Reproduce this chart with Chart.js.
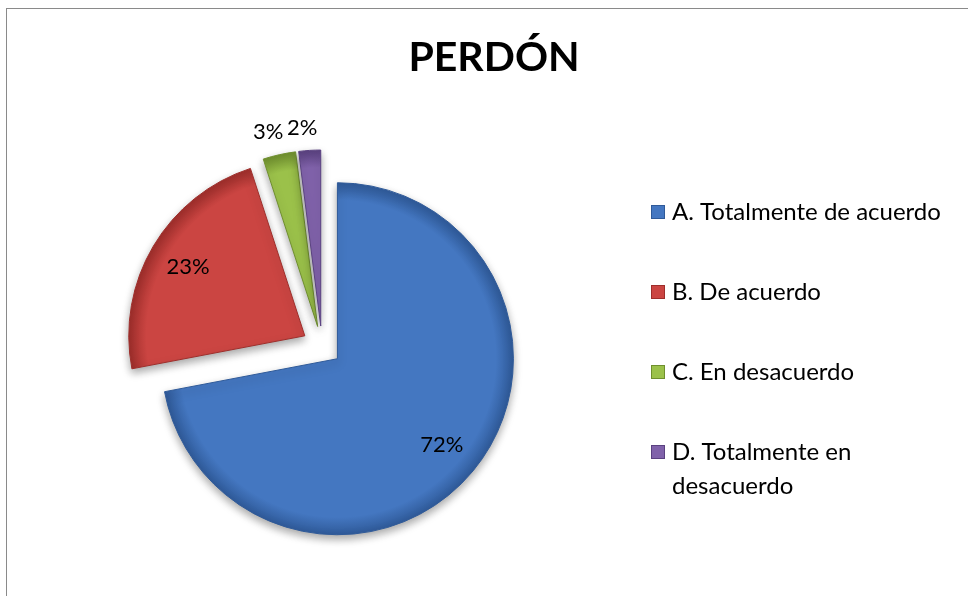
<!DOCTYPE html>
<html>
<head>
<meta charset="utf-8">
<script src="https://cdn.jsdelivr.net/npm/chart.js@4.4.1/dist/chart.umd.min.js"></script>
<style>
  body { margin: 0; background: #fff; }
  #wrap { position: relative; width: 968px; height: 596px; overflow: hidden; }
  #frame { position: absolute; left: 6px; top: 8px; width: 1000px; height: 700px; border: 1px solid #8a8a8a; }
  canvas { position: absolute; left: 0; top: 0; }
</style>
</head>
<body>
<div id="wrap">
  <div id="frame"></div>
  <canvas id="pie__Chart" width="968" height="596"></canvas>
</div>
<script>
// Chart data
const chartTitle = 'PERDÓN';
const categories = [
  'A. Totalmente de acuerdo',
  'B. De acuerdo',
  'C. En desacuerdo',
  'D. Totalmente en desacuerdo'
];
const percentages = [72, 23, 3, 2];
const sliceColors = ['#4477C1', '#CB4542', '#9BC14A', '#8062AA'];
const rimColors = ['#2F5A99', '#9E2E2B', '#6F8F2E', '#5A4180'];

const FONT = 'Lato, "Open Sans", sans-serif';
const EXPLODE = 20; // px each slice is pulled out
const RADIUS = 176;

// mid angle of slice i (chart.js starts at 12 o'clock, clockwise)
function midAngle(i) {
  const total = percentages.reduce((a, b) => a + b, 0);
  const before = percentages.slice(0, i).reduce((a, b) => a + b, 0);
  return -Math.PI / 2 + (before + percentages[i] / 2) / total * Math.PI * 2;
}

function sliceFill(ctx) {
  const chart = ctx.chart;
  const area = chart.chartArea;
  if (!area || ctx.dataIndex === undefined) return sliceColors[ctx.dataIndex] || '#999';
  const mid = midAngle(ctx.dataIndex);
  const gx = (area.left + area.right) / 2 + Math.cos(mid) * EXPLODE;
  const gy = (area.top + area.bottom) / 2 + Math.sin(mid) * EXPLODE;
  const g = chart.ctx.createRadialGradient(gx, gy, 0, gx, gy, RADIUS);
  g.addColorStop(0, sliceColors[ctx.dataIndex]);
  g.addColorStop(0.9, sliceColors[ctx.dataIndex]);
  g.addColorStop(1, rimColors[ctx.dataIndex]);
  return g;
}

const decorPlugin = {
  id: 'decor',
  // pull every slice out along its mid angle
  afterDatasetUpdate(chart, args) {
    args.meta.data.forEach(arc => {
      if (arc._exploded) return;
      const mid = (arc.startAngle + arc.endAngle) / 2;
      arc.x += Math.cos(mid) * EXPLODE;
      arc.y += Math.sin(mid) * EXPLODE;
      arc._exploded = true;
    });
  },
  beforeDatasetsDraw(chart) {
    const c = chart.ctx;
    c.save();
    c.shadowColor = 'rgba(0,0,0,0.35)';
    c.shadowBlur = 8;
    c.shadowOffsetY = 4;
  },
  afterDatasetsDraw(chart) {
    chart.ctx.restore();
  },
  afterDraw(chart) {
    const c = chart.ctx;
    c.save();
    // title
    c.fillStyle = '#000';
    c.font = 'bold 41px ' + FONT;
    c.textAlign = 'center';
    c.textBaseline = 'middle';
    c.fillText(chartTitle, 494, 58);

    // percentage labels
    c.font = '22px ' + FONT;
    const meta = chart.getDatasetMeta(0);
    meta.data.forEach((arc, i) => {
      const p = arc.getProps(['x', 'y', 'startAngle', 'endAngle', 'outerRadius']);
      const mid = (p.startAngle + p.endAngle) / 2;
      let r, dx = 0;
      if (percentages[i] >= 5) {
        r = p.outerRadius * 0.77;
      } else {
        r = p.outerRadius * 1.13;
        dx = -6;
      }
      c.fillText(percentages[i] + '%', p.x + Math.cos(mid) * r + dx, p.y + Math.sin(mid) * r);
    });

    // legend
    const boxX = 651, textX = 672, top = 212, step = 80, lineH = 34, maxW = 286;
    c.font = '24px ' + FONT;
    c.textAlign = 'left';
    categories.forEach((label, i) => {
      const y = top + i * step;
      c.fillStyle = sliceColors[i];
      c.fillRect(boxX, y - 7, 14, 14);
      c.strokeStyle = rimColors[i];
      c.lineWidth = 1;
      c.strokeRect(boxX + 0.5, y - 6.5, 13, 13);
      c.fillStyle = '#000';
      // wrap long labels
      const words = label.split(' ');
      let line = '', ly = y;
      words.forEach(w => {
        const test = line ? line + ' ' + w : w;
        if (c.measureText(test).width > maxW && line) {
          c.fillText(line, textX, ly);
          line = w;
          ly += lineH;
        } else {
          line = test;
        }
      });
      c.fillText(line, textX, ly);
    });
    c.restore();
  }
};

const ctx = document.getElementById('pie__Chart').getContext('2d');
const pieChart = new Chart(ctx, {
  type: 'pie',
  data: {
    labels: categories,
    datasets: [{
      data: percentages,
      backgroundColor: sliceFill,
      borderColor: rimColors,
      borderWidth: 1,
      radius: RADIUS
    }]
  },
  options: {
    responsive: false,
    animation: false,
    layout: { padding: { left: 122, right: 446, top: 146, bottom: 50 } },
    plugins: {
      legend: { display: false },
      title: { display: false },
      tooltip: { enabled: false }
    }
  },
  plugins: [decorPlugin]
});
</script>
</body>
</html>
